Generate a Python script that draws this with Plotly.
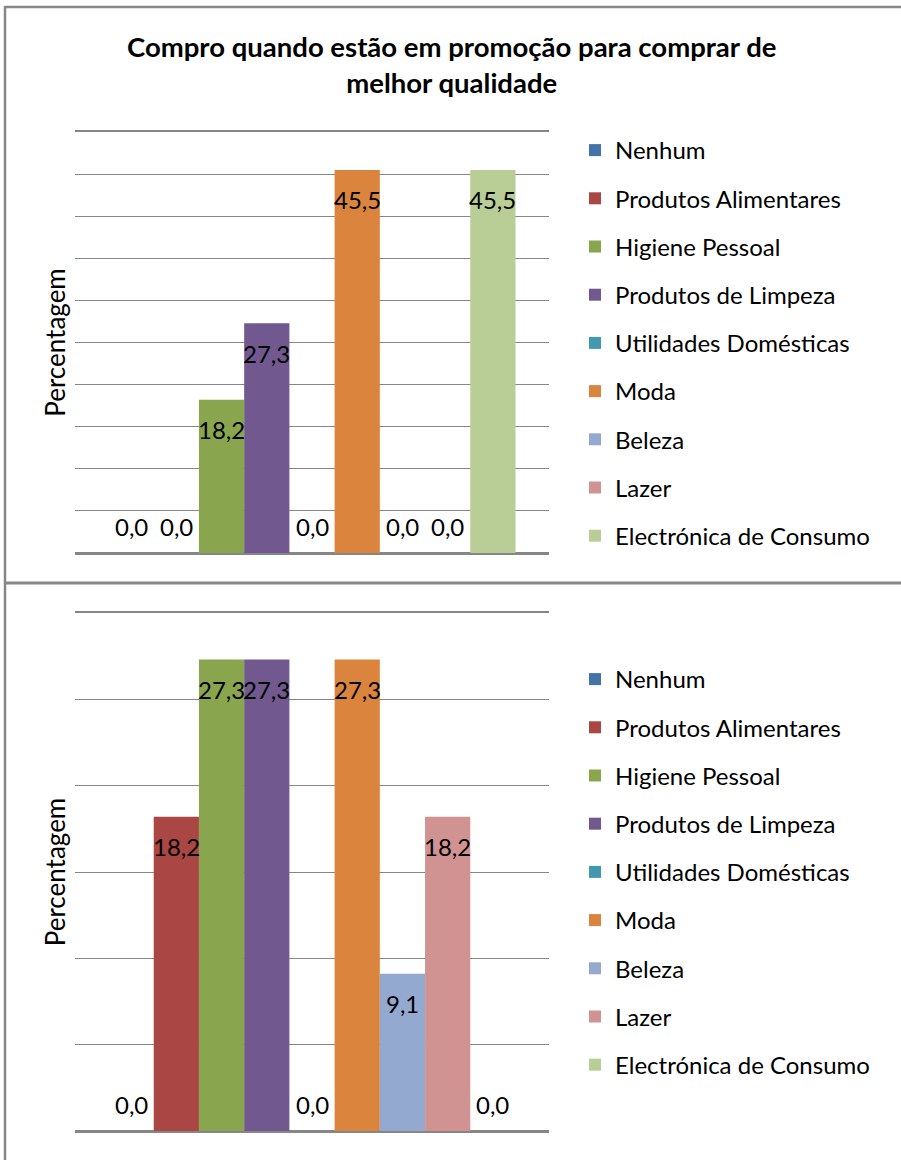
import plotly.graph_objects as go

# Categorias da legenda (uma barra por categoria)
categorias = [
    "Nenhum",
    "Produtos Alimentares",
    "Higiene Pessoal",
    "Produtos de Limpeza",
    "Utilidades Domésticas",
    "Moda",
    "Beleza",
    "Lazer",
    "Electrónica de Consumo",
]

# Percentagens de cada painel
valores_topo = [0.0, 0.0, 18.2, 27.3, 0.0, 45.5, 0.0, 0.0, 45.5]
valores_baixo = [0.0, 18.2, 27.3, 27.3, 0.0, 27.3, 9.1, 18.2, 0.0]

cores = ["#4572A7", "#AA4643", "#89A54E", "#71588F", "#4198AF",
         "#DB843D", "#93A9CF", "#D19392", "#B9CD96"]

titulo = "Compro quando estão em promoção para comprar de<br>melhor qualidade"
titulo_y = "Percentagem"

W, H = 901, 1160
FONT = "Lato, Calibri, sans-serif"
BARGAP = 0.1414
GRID = "#868686"


def px_x(p):
    return p / W


def px_y(p):
    return 1 - p / H


fig = go.Figure()

paineis = [
    # (valores, eixo x, eixo y, legenda, topo do gráfico, base, máximo)
    (valores_topo, "x", "y", "legend", 132, 553, 50),
    (valores_baixo, "x2", "y2", "legend2", 613, 1131, 30),
]

n = len(categorias)
largura = (1 - BARGAP) / n
anotacoes = []

for k, (vals, xa, ya, leg, y0, y1, ymax) in enumerate(paineis):
    for i, (cat, v, cor) in enumerate(zip(categorias, vals, cores)):
        fig.add_trace(go.Bar(
            x=["Total"], y=[v], name=cat,
            marker=dict(color=cor, line=dict(width=0)),
            xaxis=xa, yaxis=ya, legend=leg,
            legendgroup=f"p{k}_{i}",
            hoverinfo="name+y",
        ))
        xc = -(1 - BARGAP) / 2 + (i + 0.5) * largura
        anotacoes.append(dict(
            x=xc, y=v, xref=xa, yref=ya,
            text=f"{v:.1f}".replace(".", ","),
            showarrow=False, yanchor="middle",
            yshift=(-30 if v > 0 else 27),
            font=dict(family=FONT, size=24, color="#000000"),
        ))

# o eixo x desenha as linhas de cima e de baixo da área do gráfico
eixo_x = dict(showticklabels=False, showgrid=False, zeroline=False,
              ticks="", showline=True, mirror=True, linecolor=GRID,
              linewidth=1.5, range=[-0.5, 0.5], fixedrange=True)


def eixo_y(y0, y1, ymax):
    return dict(
        domain=[px_y(y1), px_y(y0)], range=[0, ymax], dtick=5,
        showticklabels=False, ticks="", showgrid=True, gridcolor=GRID,
        gridwidth=1, zeroline=True, zerolinecolor=GRID, zerolinewidth=1.5,
        showline=False, fixedrange=True,
        title=dict(text=titulo_y, standoff=0,
                   font=dict(family=FONT, size=26, color="#000000")),
    )


legenda = dict(
    font=dict(family=FONT, size=24, color="#000000"),
    bgcolor="rgba(0,0,0,0)", traceorder="grouped",
    tracegroupgap=14, xanchor="left", yanchor="top",
    itemclick=False, itemdoubleclick=False,
)

fig.update_layout(
    width=W, height=H,
    margin=dict(l=0, r=0, t=0, b=0),
    paper_bgcolor="#FFFFFF", plot_bgcolor="#FFFFFF",
    barmode="group", bargap=BARGAP, bargroupgap=0,
    font=dict(family=FONT, color="#000000"),
    showlegend=True,
    xaxis=dict(domain=[px_x(75), px_x(549)], anchor="y", **eixo_x),
    yaxis=dict(anchor="x", **eixo_y(132, 553, 50)),
    xaxis2=dict(domain=[px_x(75), px_x(549)], anchor="y2", **eixo_x),
    yaxis2=dict(anchor="x2", **eixo_y(613, 1131, 30)),
    legend=dict(x=px_x(575), y=px_y(128), **legenda),
    legend2=dict(x=px_x(575), y=px_y(657), **legenda),
    annotations=anotacoes + [dict(
        x=px_x(451), y=px_y(65), xref="paper", yref="paper",
        text=f"<b>{titulo}</b>", showarrow=False,
        xanchor="center", yanchor="middle",
        font=dict(family=FONT, size=27.5, color="#000000"),
    )],
    shapes=[
        # contorno dos dois painéis
        dict(type="line", xref="paper", yref="paper", x0=px_x(5), x1=px_x(5),
             y0=px_y(6), y1=0, line=dict(color="#878787", width=2.5)),
        dict(type="line", xref="paper", yref="paper", x0=px_x(5), x1=1,
             y0=px_y(7), y1=px_y(7), line=dict(color="#878787", width=2.5)),
        dict(type="line", xref="paper", yref="paper", x0=px_x(5), x1=1,
             y0=px_y(583), y1=px_y(583), line=dict(color="#878787", width=3)),
    ],
)

fig.write_html("out.html")
